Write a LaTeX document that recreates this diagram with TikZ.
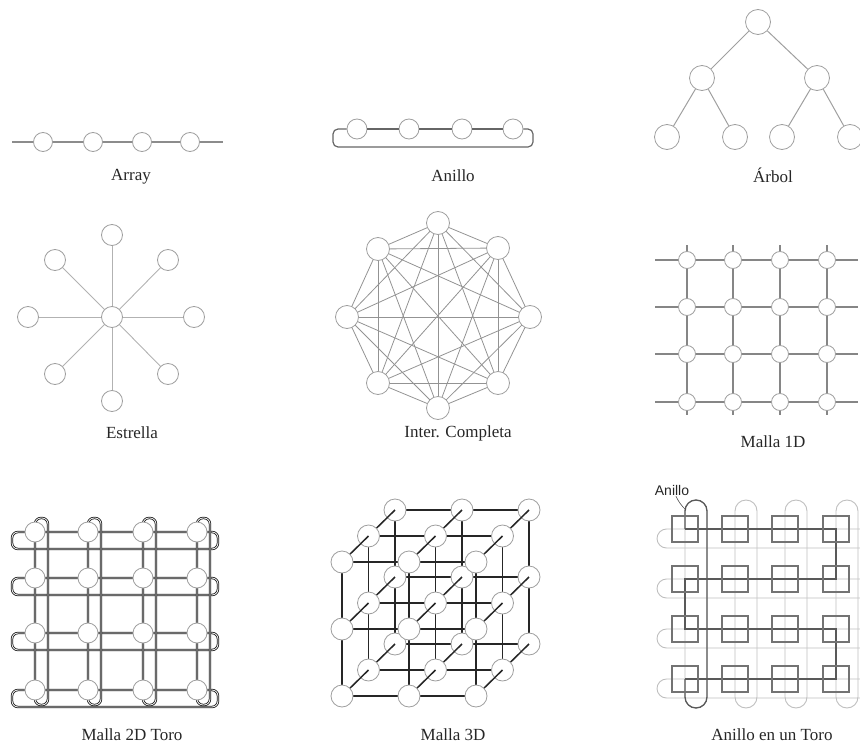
\documentclass[tikz,border=0pt]{standalone}
\usepackage{fontspec}
\setmainfont{Liberation Serif}
\newfontfamily\lsans{Liberation Sans}
\begin{document}
\begin{tikzpicture}[x=1pt,y=-1pt,
  lbl/.style={font=\fontsize{17}{17}\selectfont, text=black!85, inner sep=0pt},
  nd/.style={circle, draw=gray!75, fill=white, line width=0.8pt, minimum size=#1, inner sep=0pt},
  arline/.style={draw=gray!90, line width=1.1pt},
  rgline/.style={draw=black!60, line width=1.2pt},
  tline/.style={draw=gray!75, line width=1pt},
  sline/.style={draw=gray!60, line width=0.9pt},
  kline/.style={draw=gray!85, line width=0.8pt},
  mline/.style={draw=gray!95, line width=1.8pt},
  dbl/.style={draw=black!90, double=white, double distance=0.8pt, line width=0.8pt},
  cline/.style={draw=black!85, line width=1.5pt},
  lgline/.style={draw=gray!50, line width=0.9pt},
  ringpath/.style={draw=black!65, line width=1.3pt},
  sqbox/.style={rectangle, draw=black!55, line width=1.6pt, minimum size=26pt, inner sep=0pt},
]
\useasboundingbox (0,0) rectangle (860,744);

% ---------------- Array
\coordinate (arL) at (12,142);
\coordinate (arR) at (223,142);
\foreach \n/\x in {1/43,2/93,3/142,4/190}
  \node[nd=19] (a\n) at (\x,142) {};
\draw[arline] (arL) -- (a1) -- (a2) -- (a3) -- (a4) -- (arR);
\node[lbl] (arlab) at (131,177) {Array};

% ---------------- Anillo
\foreach \n/\x in {1/357,2/409,3/462,4/513}
  \node[nd=20] (b\n) at (\x,129) {};
\draw[rgline] (b1) -- (b2) -- (b3) -- (b4);
\draw[rgline, rounded corners=5pt] (b1.west) -- (333,129) -- (333,147) -- (533,147) -- (533,129) -- (b4.east);
\node[lbl] (anlab) at (453,176) {Anillo};

% ---------------- Arbol
\node[nd=25] (t0) at (758,22) {};
\node[nd=25] (t1) at (702,78) {};
\node[nd=25] (t2) at (817,78) {};
\node[nd=25] (t3) at (667,137) {};
\node[nd=25] (t4) at (735,137) {};
\node[nd=25] (t5) at (782,137) {};
\node[nd=25] (t6) at (850,137) {};
\draw[tline] (t0) -- (t1);
\draw[tline] (t0) -- (t2);
\draw[tline] (t1) -- (t3);
\draw[tline] (t1) -- (t4);
\draw[tline] (t2) -- (t5);
\draw[tline] (t2) -- (t6);
\node[lbl] (trlab) at (773,175) {Árbol};

% ---------------- Estrella
\node[nd=21] (s0) at (112,317) {};
\foreach \n/\x/\y in {1/112/235,2/168/260,3/194/317,4/168/374,5/112/401,6/55/374,7/28/317,8/55/260}{
  \node[nd=21] (s\n) at (\x,\y) {};
  \draw[sline] (s0) -- (s\n);
}
\node[lbl] (eslab) at (132,433) {Estrella};

% ---------------- Inter. Completa
\foreach \n/\x/\y in {1/438/223,2/498/248,3/530/317,4/498/383,5/438/408,6/378/383,7/347/317,8/378/249}
  \coordinate (p\n) at (\x,\y);
\foreach \i [evaluate=\i as \k using int(\i+1)] in {1,...,7}
  \foreach \j in {\k,...,8}
    \draw[kline] (p\i) -- (p\j);
\foreach \n in {1,...,8}
  \node[nd=23] (q\n) at (p\n) {};
\node[lbl] (iclab) at (458,433) {Inter. Completa};

% ---------------- Malla 1D
\foreach \j/\y in {1/260,2/307,3/354,4/402}{
  \coordinate (hL\j) at (655,\y);
  \coordinate (hR\j) at (858,\y);
  \draw[mline] (hL\j) -- (hR\j);
}
\foreach \i/\x in {1/687,2/733,3/780,4/827}{
  \coordinate (vT\i) at (\x,245);
  \coordinate (vB\i) at (\x,415);
  \draw[mline] (vT\i) -- (vB\i);
}
\foreach \i/\x in {1/687,2/733,3/780,4/827}
  \foreach \j/\y in {1/260,2/307,3/354,4/402}
    \node[nd=17] (m\i\j) at (\x,\y) {};
\node[lbl] (m1lab) at (773,442) {Malla 1D};

% ---------------- Malla 2D Toro
\foreach \y in {532,578,633,690}
  \draw[dbl, rounded corners=6pt] (12,\y) rectangle (218,\y+17);
\foreach \x in {35,88,143,197}
  \draw[dbl, rounded corners=6pt] (\x,518) rectangle (\x+13,705);
\foreach \i/\x in {1/35,2/88,3/143,4/197}
  \foreach \j/\y in {1/532,2/578,3/633,4/690}
    \node[nd=20] (g\i\j) at (\x,\y) {};
\node[lbl] (tolab) at (132,735) {Malla 2D Toro};

% ---------------- Malla 3D
\foreach \i in {0,1,2}
  \foreach \j in {0,1,2}
    \foreach \k in {0,1,2}
      \coordinate (c\i\j\k) at ({342+67*\i+26.5*\k},{562+67*\j-26*\k});
\foreach \k/\kn in {2/3,1/2,0/1}{
  \ifnum\k<2
    \foreach \i in {0,1,2}
      \foreach \j in {0,1,2}
        \draw[cline] (c\i\j\k) -- (c\i\j\kn);
  \fi
  \foreach \i/\in in {0/1,1/2}
    \foreach \j in {0,1,2}{
      \draw[cline] (c\i\j\k) -- (c\in\j\k);
      \draw[cline] (c\j\i\k) -- (c\j\in\k);
    }
  \foreach \i in {0,1,2}
    \foreach \j in {0,1,2}
      \node[nd=22] (n\i\j\k) at (c\i\j\k) {};
}
\node[lbl] (m3lab) at (453,735) {Malla 3D};

% ---------------- Anillo en un Toro
\begin{scope}
\clip (600,470) rectangle (860,744);
\foreach \y in {529,579,629,679}
  \draw[lgline, rounded corners=9.5pt] (900,\y) -- (657,\y) -- (657,\y+19) -- (900,\y+19);
\foreach \x in {685,735,785,836}
  \draw[lgline, rounded corners=11pt] (\x,500) rectangle (\x+22,708);
\coordinate (rs) at (685,529);
\coordinate (re) at (685,679);
\draw[ringpath, rounded corners=11pt] (rs) -- (685,500) -- (707,500) -- (707,708) -- (685,708) -- (re);
\draw[ringpath] (rs) -- (836,529) -- (836,579) -- (685,579) -- (685,629) -- (836,629) -- (836,679) -- (re);
\foreach \i/\x in {1/685,2/735,3/785,4/836}
  \foreach \j/\y in {1/529,2/579,3/629,4/679}
    \node[sqbox] (r\i\j) at (\x,\y) {};
\end{scope}
\node[font=\lsans\fontsize{14}{14}\selectfont, text=black!85, inner sep=0pt] (anl) at (672,490) {Anillo};
\coordinate (anlp) at (686,510);
\draw[black!70, line width=0.6pt] (anl.south) ++(4,1) to[bend right=10] (anlp);
\node[lbl] (atlab) at (772,735) {Anillo en un Toro};
\end{tikzpicture}
\end{document}
